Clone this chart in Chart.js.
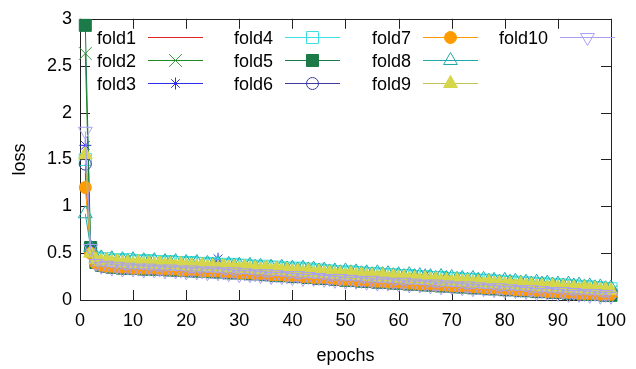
<!DOCTYPE html>
<html><head><meta charset="utf-8">
<script src="https://cdn.jsdelivr.net/npm/chart.js@4.4.0/dist/chart.umd.min.js"></script>
<style>html,body{margin:0;padding:0;background:#fff;}canvas{display:block;}</style>
</head><body>
<canvas id="c" width="636" height="369"></canvas>
<script>
const epochs = [1,2,3,4,5,6,7,8,9,10,11,12,13,14,15,16,17,18,19,20,
21,22,23,24,25,26,27,28,29,30,31,32,33,34,35,36,37,38,39,40,
41,42,43,44,45,46,47,48,49,50,51,52,53,54,55,56,57,58,59,60,
61,62,63,64,65,66,67,68,69,70,71,72,73,74,75,76,77,78,79,80,
81,82,83,84,85,86,87,88,89,90,91,92,93,94,95,96,97,98,99,100];

const fold1 = [1.35,0.52,0.41,0.40,0.39,0.38,0.38,0.37,0.37,0.37,
0.37,0.36,0.36,0.36,0.36,0.36,0.35,0.35,0.35,0.35,
0.34,0.34,0.34,0.34,0.33,0.33,0.33,0.33,0.32,0.32,
0.32,0.31,0.31,0.31,0.30,0.30,0.30,0.29,0.29,0.29,
0.28,0.28,0.27,0.27,0.27,0.26,0.26,0.25,0.25,0.25,
0.24,0.24,0.24,0.23,0.23,0.23,0.22,0.22,0.22,0.21,
0.21,0.21,0.20,0.20,0.20,0.19,0.19,0.19,0.18,0.18,
0.18,0.17,0.17,0.17,0.16,0.16,0.16,0.15,0.15,0.15,
0.14,0.14,0.14,0.13,0.13,0.13,0.12,0.12,0.12,0.11,
0.11,0.11,0.10,0.10,0.10,0.10,0.09,0.09,0.09,0.08];

const fold2 = [2.63,0.53,0.43,0.41,0.40,0.40,0.39,0.39,0.38,0.38,
0.38,0.38,0.37,0.38,0.37,0.37,0.37,0.36,0.36,0.36,
0.36,0.35,0.35,0.35,0.35,0.34,0.34,0.34,0.33,0.33,
0.33,0.32,0.32,0.32,0.31,0.31,0.31,0.30,0.30,0.30,
0.29,0.29,0.29,0.28,0.28,0.27,0.27,0.27,0.26,0.26,
0.25,0.25,0.25,0.24,0.24,0.24,0.23,0.23,0.22,0.22,
0.22,0.22,0.21,0.21,0.21,0.20,0.20,0.20,0.19,0.19,
0.19,0.18,0.18,0.18,0.17,0.17,0.17,0.16,0.16,0.16,
0.15,0.15,0.15,0.14,0.14,0.14,0.13,0.13,0.13,0.12,
0.12,0.12,0.11,0.11,0.11,0.10,0.10,0.10,0.09,0.09];

const fold3 = [1.65,0.54,0.41,0.39,0.39,0.42,0.38,0.37,0.37,0.37,
0.36,0.36,0.36,0.36,0.36,0.35,0.35,0.35,0.35,0.34,
0.34,0.34,0.34,0.33,0.34,0.44,0.33,0.32,0.32,0.32,
0.31,0.31,0.31,0.30,0.30,0.30,0.29,0.29,0.29,0.28,
0.28,0.28,0.27,0.27,0.26,0.26,0.26,0.25,0.25,0.24,
0.24,0.24,0.23,0.23,0.23,0.22,0.22,0.22,0.21,0.21,
0.21,0.20,0.20,0.20,0.27,0.19,0.19,0.18,0.18,0.18,
0.17,0.17,0.17,0.16,0.16,0.16,0.15,0.15,0.15,0.14,
0.14,0.14,0.13,0.13,0.13,0.12,0.12,0.12,0.11,0.11,
0.11,0.10,0.10,0.10,0.09,0.09,0.09,0.08,0.08,0.08];

const fold4 = [1.50,0.55,0.45,0.44,0.44,0.42,0.43,0.42,0.43,0.41,
0.42,0.41,0.42,0.41,0.41,0.40,0.41,0.40,0.40,0.39,
0.40,0.39,0.39,0.38,0.39,0.38,0.38,0.37,0.38,0.37,
0.37,0.36,0.36,0.35,0.36,0.35,0.35,0.34,0.34,0.33,
0.34,0.33,0.33,0.32,0.32,0.31,0.31,0.30,0.30,0.29,
0.30,0.29,0.29,0.28,0.28,0.28,0.27,0.27,0.27,0.26,
0.26,0.26,0.25,0.25,0.25,0.24,0.24,0.24,0.23,0.23,
0.23,0.22,0.22,0.22,0.21,0.21,0.21,0.20,0.20,0.19,
0.19,0.19,0.18,0.18,0.18,0.17,0.17,0.17,0.16,0.16,
0.16,0.15,0.15,0.14,0.14,0.14,0.13,0.13,0.12,0.12];

const fold5 = [2.93,0.56,0.40,0.37,0.36,0.35,0.35,0.34,0.34,0.34,
0.34,0.33,0.33,0.33,0.33,0.33,0.32,0.32,0.32,0.32,
0.31,0.31,0.31,0.31,0.30,0.30,0.30,0.29,0.29,0.29,
0.29,0.28,0.28,0.28,0.27,0.27,0.26,0.26,0.26,0.25,
0.25,0.25,0.24,0.24,0.23,0.23,0.23,0.22,0.22,0.21,
0.21,0.21,0.20,0.20,0.20,0.19,0.19,0.19,0.18,0.18,
0.18,0.17,0.17,0.17,0.16,0.16,0.16,0.15,0.15,0.15,
0.14,0.14,0.14,0.13,0.13,0.13,0.12,0.12,0.12,0.11,
0.11,0.11,0.10,0.10,0.10,0.09,0.09,0.09,0.08,0.08,
0.08,0.07,0.07,0.07,0.06,0.06,0.06,0.06,0.05,0.05];

const fold6 = [1.45,0.51,0.40,0.38,0.38,0.37,0.37,0.36,0.36,0.36,
0.36,0.35,0.35,0.35,0.35,0.35,0.34,0.34,0.34,0.34,
0.33,0.33,0.33,0.33,0.32,0.32,0.32,0.32,0.31,0.31,
0.31,0.30,0.30,0.30,0.29,0.29,0.29,0.28,0.28,0.27,
0.27,0.27,0.26,0.26,0.26,0.25,0.25,0.24,0.24,0.24,
0.23,0.23,0.23,0.22,0.22,0.22,0.21,0.21,0.21,0.20,
0.20,0.20,0.19,0.19,0.19,0.18,0.18,0.18,0.17,0.17,
0.17,0.16,0.16,0.16,0.15,0.15,0.15,0.14,0.14,0.14,
0.13,0.13,0.13,0.12,0.12,0.12,0.11,0.11,0.11,0.10,
0.10,0.10,0.09,0.09,0.09,0.08,0.08,0.08,0.07,0.07];

const fold7 = [1.20,0.50,0.39,0.37,0.36,0.36,0.35,0.35,0.35,0.34,
0.34,0.34,0.34,0.34,0.33,0.33,0.33,0.33,0.32,0.32,
0.32,0.32,0.31,0.31,0.31,0.31,0.30,0.30,0.30,0.29,
0.29,0.29,0.28,0.28,0.28,0.27,0.27,0.27,0.26,0.26,
0.26,0.25,0.25,0.24,0.24,0.24,0.23,0.23,0.22,0.22,
0.22,0.21,0.21,0.21,0.20,0.20,0.20,0.19,0.19,0.19,
0.18,0.18,0.18,0.17,0.17,0.17,0.16,0.16,0.16,0.15,
0.15,0.15,0.14,0.14,0.14,0.13,0.13,0.13,0.12,0.12,
0.12,0.11,0.11,0.11,0.10,0.10,0.10,0.09,0.09,0.09,
0.08,0.08,0.08,0.07,0.07,0.07,0.07,0.06,0.06,0.06];

const fold8 = [0.92,0.56,0.44,0.45,0.42,0.44,0.41,0.43,0.41,0.43,
0.40,0.42,0.40,0.42,0.39,0.41,0.39,0.41,0.38,0.40,
0.38,0.40,0.37,0.39,0.37,0.39,0.36,0.38,0.36,0.37,
0.35,0.37,0.35,0.36,0.34,0.35,0.33,0.35,0.33,0.34,
0.32,0.34,0.32,0.33,0.31,0.32,0.30,0.31,0.29,0.31,
0.29,0.30,0.28,0.29,0.27,0.29,0.27,0.28,0.26,0.27,
0.25,0.27,0.25,0.26,0.24,0.25,0.23,0.25,0.23,0.24,
0.22,0.23,0.21,0.23,0.21,0.22,0.20,0.21,0.19,0.21,
0.19,0.20,0.18,0.19,0.17,0.19,0.17,0.18,0.16,0.17,
0.15,0.17,0.15,0.16,0.14,0.15,0.13,0.14,0.12,0.13];

const fold9 = [1.55,0.50,0.43,0.41,0.42,0.40,0.41,0.39,0.40,0.38,
0.40,0.38,0.39,0.37,0.39,0.37,0.38,0.36,0.38,0.36,
0.37,0.35,0.37,0.35,0.36,0.34,0.36,0.34,0.35,0.33,
0.35,0.33,0.34,0.32,0.34,0.31,0.33,0.31,0.32,0.30,
0.31,0.29,0.31,0.28,0.30,0.28,0.29,0.27,0.28,0.26,
0.28,0.26,0.27,0.25,0.26,0.24,0.26,0.23,0.25,0.23,
0.24,0.22,0.23,0.21,0.23,0.21,0.22,0.20,0.21,0.19,
0.21,0.19,0.20,0.18,0.19,0.17,0.19,0.17,0.18,0.16,
0.17,0.15,0.17,0.15,0.16,0.14,0.15,0.13,0.15,0.13,
0.14,0.12,0.13,0.11,0.13,0.11,0.12,0.10,0.11,0.10];

const fold10 = [1.80,0.55,0.39,0.36,0.37,0.34,0.36,0.33,0.35,0.33,
0.34,0.32,0.34,0.32,0.33,0.31,0.33,0.31,0.32,0.30,
0.32,0.30,0.31,0.29,0.31,0.29,0.30,0.28,0.30,0.27,
0.29,0.27,0.28,0.26,0.28,0.25,0.27,0.25,0.26,0.24,
0.26,0.23,0.25,0.23,0.24,0.22,0.23,0.21,0.23,0.20,
0.22,0.20,0.21,0.19,0.21,0.18,0.20,0.18,0.19,0.17,
0.19,0.16,0.18,0.16,0.17,0.15,0.17,0.14,0.16,0.14,
0.15,0.13,0.15,0.12,0.14,0.12,0.13,0.11,0.13,0.10,
0.12,0.10,0.11,0.09,0.11,0.08,0.10,0.08,0.09,0.07,
0.09,0.06,0.08,0.06,0.07,0.05,0.07,0.04,0.06,0.04];

const seriesNames = ['fold1','fold2','fold3','fold4','fold5','fold6','fold7','fold8','fold9','fold10'];
const seriesValues = [fold1,fold2,fold3,fold4,fold5,fold6,fold7,fold8,fold9,fold10];
const xTicks = [0,10,20,30,40,50,60,70,80,90,100];
const yTicks = [0,0.5,1,1.5,2,2.5,3];
const xTitle = 'epochs';
const yTitle = 'loss';

// styles (not data)
const styles = [
  {line:'#e02424', point:'circle', r:0, fill:'rgba(0,0,0,0)', rot:0},
  {line:'#1f8a1f', point:'crossRot', r:9, fill:'rgba(0,0,0,0)', rot:0, pcol:'#3a9a3a'},
  {line:'#2e2ef0', point:'star', r:6, fill:'rgba(0,0,0,0)', rot:0},
  {line:'#3ee0e0', point:'rect', r:8.5, fill:'rgba(0,0,0,0)', rot:0},
  {line:'#1b7a47', point:'rect', r:8.5, fill:'#1b7a47', rot:0},
  {line:'#3c3ca0', point:'circle', r:6, fill:'rgba(0,0,0,0)', rot:0},
  {line:'#ff9a00', point:'circle', r:6, fill:'#ff9a00', rot:0},
  {line:'#22aaaa', point:'triangle', r:8, fill:'rgba(0,0,0,0)', rot:0},
  {line:'#c4c456', point:'triangle', r:8, fill:'#d6d64a', rot:0, pcol:'#d6d64a'},
  {line:'#a9a0f5', point:'triangle', r:8, fill:'rgba(0,0,0,0)', rot:180}
];

const FAMILY = '"Liberation Sans", Arial, Helvetica, sans-serif';
const FSIZE = 18;

const datasets = seriesNames.map((name, i) => {
  const s = styles[i];
  return {
    label: name,
    data: epochs.map((e, k) => ({x: e, y: seriesValues[i][k]})),
    borderColor: s.line,
    borderWidth: 1,
    backgroundColor: s.fill,
    pointStyle: s.point,
    pointRadius: s.r,
    pointRotation: s.rot,
    pointBorderWidth: 1,
    pointBorderColor: s.pcol || s.line,
    pointBackgroundColor: s.fill,
    fill: false,
    tension: 0,
    clip: false,
    order: 9 - i
  };
});

const framePlugin = {
  id: 'frame',
  beforeDatasetsDraw(chart) {
    const {ctx, chartArea: a, scales: {x, y}} = chart;
    ctx.save();
    ctx.strokeStyle = '#222';
    ctx.lineWidth = 1;
    const T = 10;
    ctx.beginPath();
    xTicks.forEach(v => {
      const px = Math.round(x.getPixelForValue(v)) + 0.5;
      ctx.moveTo(px, a.bottom); ctx.lineTo(px, a.bottom - T);
      ctx.moveTo(px, a.top); ctx.lineTo(px, a.top + T);
    });
    yTicks.forEach(v => {
      const py = Math.round(y.getPixelForValue(v)) + 0.5;
      ctx.moveTo(a.left, py); ctx.lineTo(a.left + T, py);
      ctx.moveTo(a.right, py); ctx.lineTo(a.right - T, py);
    });
    ctx.stroke();
    ctx.strokeRect(Math.round(a.left) + 0.5, Math.round(a.top) + 0.5,
      Math.round(a.right - a.left), Math.round(a.bottom - a.top));
    ctx.restore();
  }
};

const legendPlugin = {
  id: 'gpLegend',
  afterDatasetsDraw(chart) {
    const ctx = chart.ctx;
    const cols = [148, 285, 423, 560];
    const rows = [37, 60, 83];
    const len = 55;
    ctx.save();
    chart.data.datasets.forEach((ds, i) => {
      const c = Math.floor(i / 3), r = i % 3;
      const x0 = cols[c], yy = rows[r] + 0.5;
      ctx.fillStyle = '#000';
      ctx.font = FSIZE + 'px ' + FAMILY;
      ctx.textAlign = 'right';
      ctx.textBaseline = 'alphabetic';
      ctx.fillText(ds.label, x0 - 12, rows[r] + 7);
      ctx.strokeStyle = ds.borderColor;
      ctx.lineWidth = 1;
      ctx.beginPath();
      ctx.moveTo(x0, yy); ctx.lineTo(x0 + len, yy);
      ctx.stroke();
      if (ds.pointRadius > 0 && Chart.helpers && Chart.helpers.drawPoint) {
        ctx.fillStyle = ds.pointBackgroundColor;
        ctx.strokeStyle = ds.pointBorderColor;
        ctx.lineWidth = 1;
        Chart.helpers.drawPoint(ctx, {
          pointStyle: ds.pointStyle, radius: ds.pointRadius,
          rotation: ds.pointRotation || 0, borderWidth: 1
        }, x0 + len / 2, yy);
      }
    });
    ctx.restore();
  }
};

new Chart(document.getElementById('c'), {
  type: 'line',
  data: { datasets },
  options: {
    responsive: false,
    devicePixelRatio: 1,
    animation: false,
    events: [],
    layout: { padding: { top: 15, right: 17, left: 0, bottom: 0 } },
    plugins: { legend: { display: false }, tooltip: { enabled: false } },
    scales: {
      x: {
        type: 'linear', min: 0, max: 100,
        afterBuildTicks(s) { s.ticks = xTicks.map(v => ({value: v})); },
        ticks: { font: {family: FAMILY, size: FSIZE}, color: '#000', padding: 10, maxRotation: 0, autoSkip: false, callback: v => String(v) },
        grid: { display: false, drawTicks: false },
        border: { display: false },
        title: { display: true, text: xTitle, font: {family: FAMILY, size: FSIZE}, color: '#000', padding: {top: 0, bottom: 2} },
        afterFit(s) { s.height = 69; }
      },
      y: {
        type: 'linear', min: 0, max: 3,
        afterBuildTicks(s) { s.ticks = yTicks.map(v => ({value: v})); },
        ticks: { font: {family: FAMILY, size: FSIZE}, color: '#000', padding: 8, autoSkip: false, callback: v => String(v) },
        grid: { display: false, drawTicks: false },
        border: { display: false },
        title: { display: true, text: yTitle, font: {family: FAMILY, size: FSIZE}, color: '#000', padding: {top: 9, bottom: 0} },
        afterFit(s) { s.width = 80; }
      }
    }
  },
  plugins: [framePlugin, legendPlugin]
});
</script>
</body></html>
